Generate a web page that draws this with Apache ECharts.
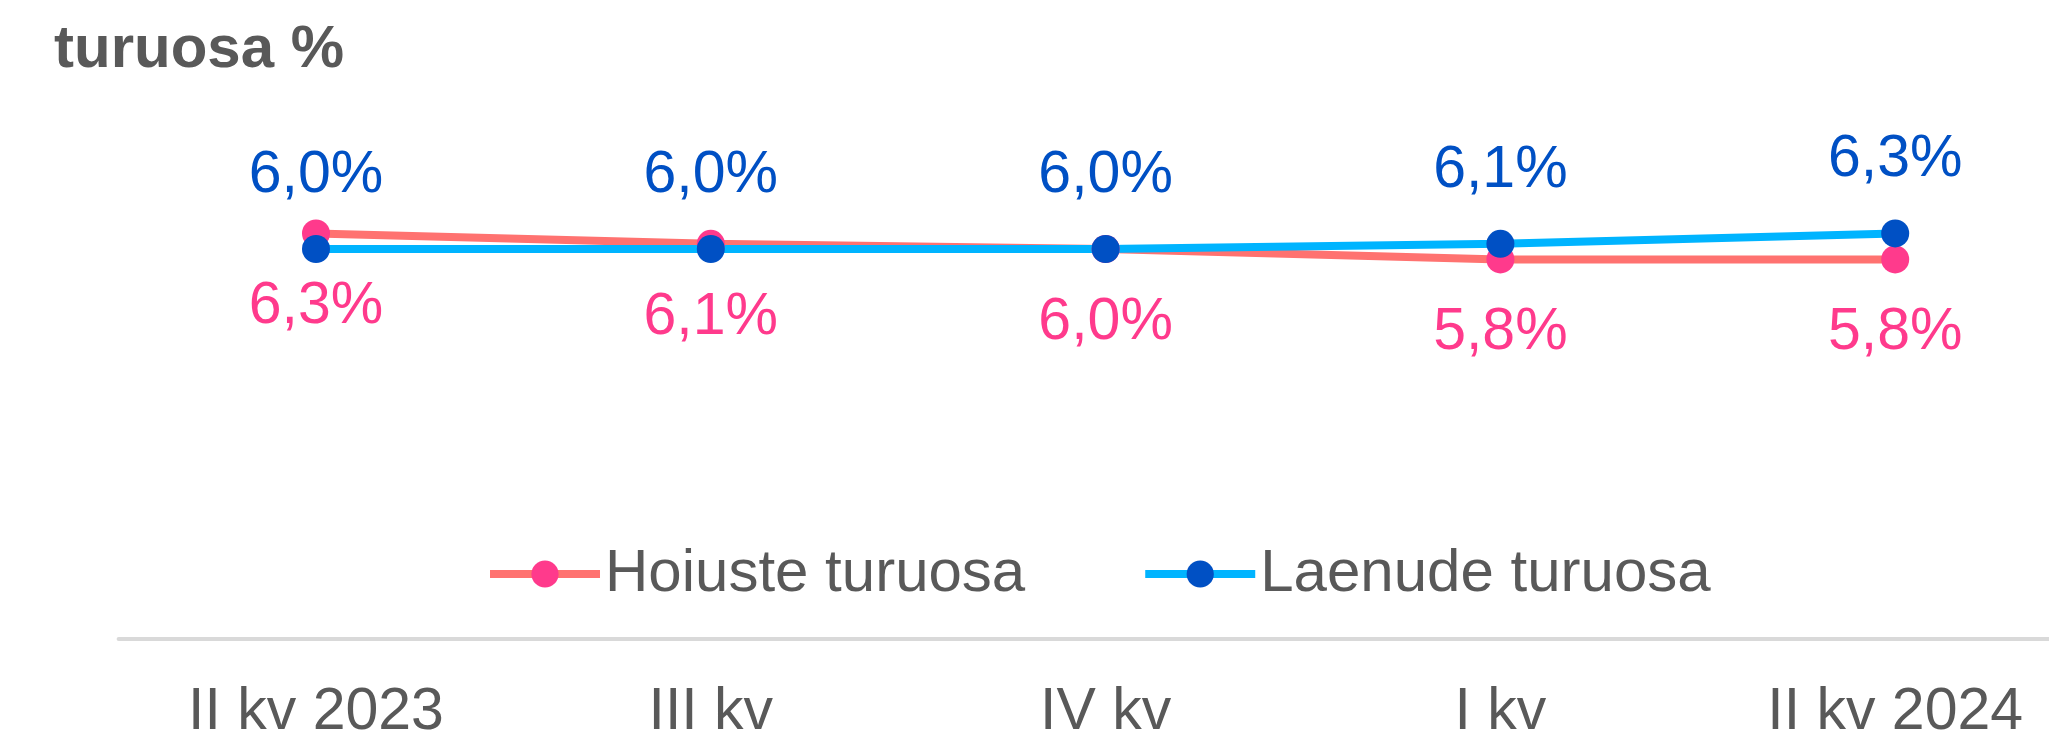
<!DOCTYPE html>
<html>
<head>
<meta charset="utf-8">
<script src="https://cdn.jsdelivr.net/npm/echarts@6/dist/echarts.min.js"></script>
<style>
html,body{margin:0;padding:0;background:#fff;}
#chart{width:2049px;height:733px;}
</style>
</head>
<body>
<div id="chart"></div>
<script>
const categories = ['II kv 2023', 'III kv', 'IV kv', 'I kv', 'II kv 2024'];
const hoiuste = [6.3, 6.1, 6.0, 5.8, 5.8];
const laenude = [6.0, 6.0, 6.0, 6.1, 6.3];
const seriesNames = ['Hoiuste turuosa', 'Laenude turuosa'];
const titleText = 'turuosa %';

const FONT = '"Liberation Sans", Arial, sans-serif';
const fmt = p => p.value.toFixed(1).replace('.', ',') + '%';

const chart = echarts.init(document.getElementById('chart'), null, {renderer: 'canvas'});
chart.setOption({
  animation: false,
  backgroundColor: '#ffffff',
  title: {
    text: titleText,
    left: 49,
    top: 15,
    textStyle: {fontFamily: FONT, fontSize: 60, fontWeight: 'bold', color: '#595959', lineHeight: 61}
  },
  legend: {
    left: 481,
    top: 539,
    itemWidth: 110,
    itemHeight: 34,
    itemGap: 116,
    lineStyle: {width: 8},
    textStyle: {fontFamily: FONT, fontSize: 60, color: '#595959', lineHeight: 59},
    data: seriesNames
  },
  grid: {left: 118.6, top: 93, width: 1974, bottom: 94, containLabel: false, outerBoundsMode: 'none'},
  xAxis: {
    type: 'category',
    data: categories,
    boundaryGap: true,
    axisLine: {show: true, onZero: false, lineStyle: {color: '#d9d9d9', width: 4}},
    axisTick: {show: false},
    axisLabel: {fontFamily: FONT, fontSize: 59, color: '#595959', margin: 44, lineHeight: 59, hideOverlap: false},
    splitLine: {show: false}
  },
  yAxis: {
    type: 'value',
    min: -1.5,
    max: 9,
    show: false,
    splitLine: {show: false}
  },
  series: [
    {
      name: seriesNames[0],
      type: 'line',
      data: hoiuste,
      symbol: 'circle',
      symbolSize: 28,
      lineStyle: {color: '#FF7270', width: 8},
      itemStyle: {color: '#FF3A8C'},
      label: {show: true, position: 'bottom', distance: 30, formatter: fmt,
        fontFamily: FONT, fontSize: 59, color: '#FF3A8C', lineHeight: 59}
    },
    {
      name: seriesNames[1],
      type: 'line',
      data: laenude,
      symbol: 'circle',
      symbolSize: 28,
      lineStyle: {color: '#00B4FF', width: 8},
      itemStyle: {color: '#0050C4'},
      label: {show: true, position: 'top', distance: 30, formatter: fmt,
        fontFamily: FONT, fontSize: 59, color: '#0050C4', lineHeight: 59}
    }
  ]
});
</script>
</body>
</html>
